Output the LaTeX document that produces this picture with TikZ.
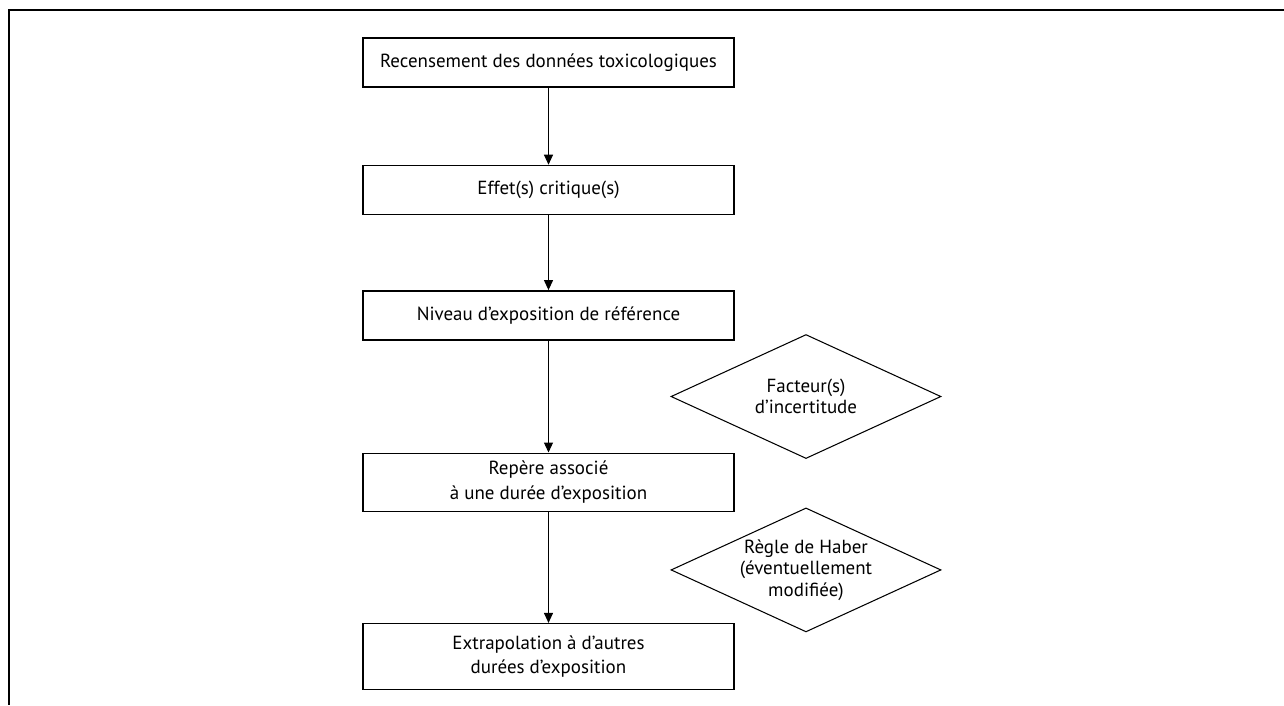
\documentclass[tikz,border=0pt]{standalone}
\usepackage{fontspec}
\setmainfont{PT Sans}
\usepackage{tikz}
\usetikzlibrary{arrows.meta,positioning,shapes.geometric,calc}

\begin{document}
\begin{tikzpicture}[
  stepbox/.style={draw, line width=0.8pt, minimum width=7.42cm, minimum height=0.98cm,
    align=center, font=\fontsize{10.8}{14}\selectfont, inner sep=2pt},
  dia/.style={draw, diamond, aspect=2.2, line width=0.6pt, inner sep=0pt,
    minimum width=5.4cm, minimum height=2.48cm,
    align=center, font=\fontsize{10.8}{12.2}\selectfont},
  arr/.style={-{Triangle[length=2mm, width=1.8mm]}, line width=0.6pt},
  frame/.style={line width=1pt}
]
  \useasboundingbox (0,0) rectangle (25.68,-14.1);

  % outer frame (open to the right and bottom)
  \coordinate (ftl) at (0.18,-0.2);
  \coordinate (ftr) at (25.68,-0.2);
  \coordinate (fbl) at (0.18,-14.1);
  \draw[frame] (ftr) -- (ftl) -- (fbl);

  \node[stepbox] (rec) at (10.97,-1.25) {Recensement des données toxicologiques};
  \node[stepbox, below=1.54cm of rec] (eff) {Effet(s) critique(s)};
  \node[stepbox, below=1.5cm of eff] (niv) {Niveau d’exposition de référence};
  \node[stepbox, below=2.24cm of niv, minimum height=1.16cm] (rep)
    {Repère associé\\ à une durée d’exposition};
  \node[stepbox, below=2.22cm of rep, minimum height=1.32cm] (ext)
    {Extrapolation à d’autres\\ durées d’exposition};

  \node[dia] (fac) at ($(niv.south)!0.5!(rep.north) + (5.15,0)$)
    {Facteur(s)\\ d’incertitude};
  \node[dia] (hab) at ($(rep.south)!0.5!(ext.north) + (5.15,-0.05)$)
    {Règle de Haber\\ (éventuellement\\ modifiée)};

  \draw[arr] (rec) -- (eff);
  \draw[arr] (eff) -- (niv);
  \draw[arr] (niv) -- (rep);
  \draw[arr] (rep) -- (ext);
\end{tikzpicture}
\end{document}
